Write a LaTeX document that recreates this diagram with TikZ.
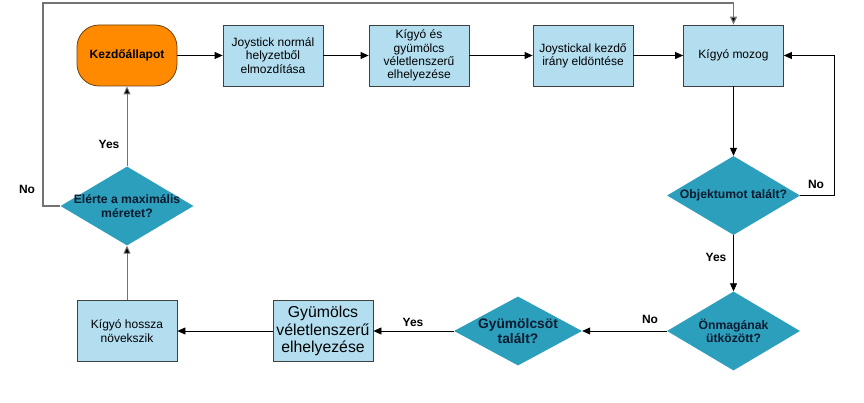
\documentclass[tikz,border=0pt]{standalone}
\usepackage{fontspec}
\setmainfont{Liberation Sans}
\usetikzlibrary{shapes.geometric,arrows.meta}
\definecolor{boxblue}{HTML}{B3DEF0}
\definecolor{dteal}{HTML}{2B9FBC}
\definecolor{startor}{HTML}{FF8A00}
\definecolor{startbd}{HTML}{6B4210}
\definecolor{dtext}{HTML}{0E1A2E}
\begin{document}
\begin{tikzpicture}[x=1pt,y=-1pt,
  proc/.style={draw=black!75, line width=0.8pt, fill=boxblue, minimum width=100pt, minimum height=61pt,
    inner sep=1pt, align=center, font=\fontsize{12}{13.3}\selectfont},
  startbox/.style={draw=startbd, line width=0.8pt, fill=startor, rounded corners=22pt, minimum width=100pt,
    minimum height=61pt, align=center, font=\bfseries\fontsize{12}{13.3}\selectfont},
  dec/.style={diamond, fill=dteal, draw=none, inner sep=0pt, minimum width=133pt, minimum height=79pt},
  dfont/.style={align=center, text=dtext, font=\bfseries\fontsize{12.2}{13.3}\selectfont},
  arr/.style={line width=0.8pt, draw=black, -{Triangle[length=8pt,width=7pt]}},
  garr/.style={line width=0.9pt, draw=black!55, -{Triangle[length=8pt,width=7pt,fill=black]}},
  lab/.style={font=\bfseries\fontsize{12}{13}\selectfont}
]
\useasboundingbox (0,0) rectangle (864,403);

\node[startbox] (start) at (127,55.5) {Kezdőállapot};
\node[proc] (j1) at (273,55.5) {Joystick normál\\helyzetből\\elmozdítása};
\node[proc] (j2) at (419,55.5) {Kígyó és\\gyümölcs\\véletlenszerű\\elhelyezése};
\node[proc] (j3) at (583,55.5) {Joystickal kezdő\\irány eldöntése};
\node[proc] (move) at (733.5,55.5) {Kígyó mozog};

\node[dec, label={[dfont]center:Objektumot talált?}] (obj) at (733.5,195.5) {};
\node[dec, label={[dfont]center:Önmagának\\ütközött?}] (self) at (733.5,331) {};
\node[dec, minimum width=128pt, minimum height=69pt,
  label={[dfont, font=\bfseries\fontsize{13.8}{15.8}\selectfont]center:Gyümölcsöt\\talált?}] (fruit) at (518,331) {};
\node[proc, font=\fontsize{15.8}{17.8}\selectfont] (place) at (323,331) {Gyümölcs\\véletlenszerű\\elhelyezése};
\node[proc] (grow) at (127,331) {Kígyó hossza\\növekszik};
\node[dec, label={[dfont]center:Elérte a maximális\\méretet?}] (max) at (127,206) {};

\coordinate (rr) at (834,55.5);
\coordinate (tl) at (43,3);

\draw[arr] (start) -- (j1);
\draw[arr] (j1) -- (j2);
\draw[arr] (j2) -- (j3);
\draw[arr] (j3) -- (move);
\draw[arr] (move) -- (obj);
\draw[arr] (obj.east) -| (rr) -- (move.east);
\draw[arr] (obj.south) -- (self.north);
\draw[arr] (self.west) -- (fruit.east);
\draw[arr] (fruit.west) -- (place.east);
\draw[arr] (place.west) -- (grow.east);
\draw[garr] (grow.north) -- (max.south);
\draw[garr] (max.north) -- (start.south);
\draw[garr, line width=1.2pt] (max.west) -| (tl) -| (move.north);

\node[lab] (l1) at (27,189) {No};
\node[lab] (l2) at (109,144) {Yes};
\node[lab] (l3) at (816,184) {No};
\node[lab] (l4) at (716,257) {Yes};
\node[lab] (l5) at (650,319) {No};
\node[lab] (l6) at (413,322) {Yes};
\end{tikzpicture}
\end{document}
